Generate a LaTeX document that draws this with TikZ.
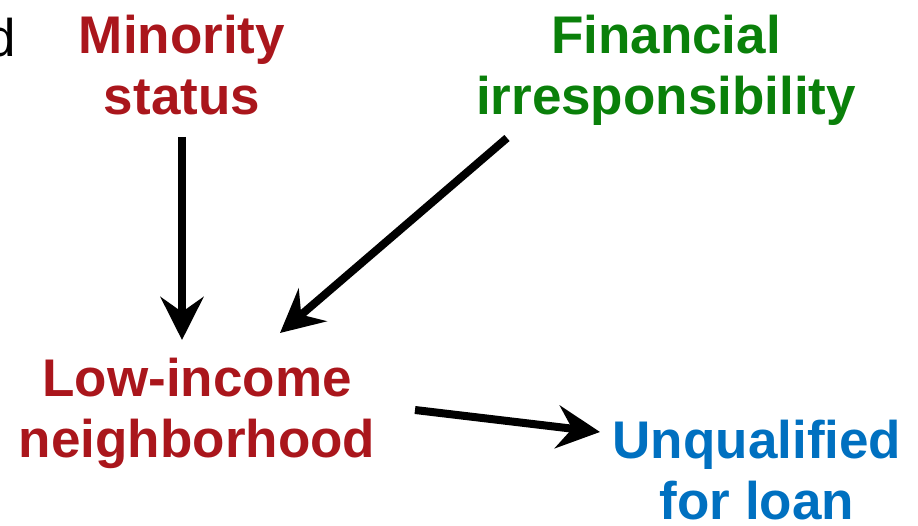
\documentclass[tikz,border=0pt]{standalone}
\usepackage{fontspec}
\setmainfont{Liberation Sans}
\usetikzlibrary{arrows.meta}
\definecolor{cred}{RGB}{170,22,28}
\definecolor{cgreen}{RGB}{10,128,10}
\definecolor{cblue}{RGB}{0,112,192}
\tikzset{
  lbl/.style={font=\fontsize{53}{61}\selectfont\bfseries, align=center, inner sep=0pt, anchor=north},
  arr/.style={line width=8pt, -{Stealth[length=43pt,width=43pt,inset=15pt]}}
}
\begin{document}
\begin{tikzpicture}[x=1pt,y=1pt]
\useasboundingbox (0,0) rectangle (918,526);
\node[font=\fontsize{53}{61}\selectfont, inner sep=0pt, anchor=base west] (dd) at (-14,469) {d};
\node[lbl, text=cred] (ms) at (182,511) {Minority\\status};
\node[lbl, text=cgreen] (fi) at (666,511) {Financial\\irresponsibility};
\node[lbl, text=cred] (li) at (197,168) {Low-income\\neighborhood};
\node[lbl, text=cblue] (uq) at (757,106) {Unqualified\\for loan};
\draw[arr] ([yshift=-122pt]ms.north) -- ([xshift=-15pt,yshift=18pt]li.north);
\draw[arr] ([xshift=-159pt,yshift=-123pt]fi.north) -- ([xshift=83pt,yshift=25pt]li.north);
\draw[arr] ([xshift=218pt,yshift=-52pt]li.north) -- ([xshift=-157pt,yshift=-12pt]uq.north);
\end{tikzpicture}
\end{document}
